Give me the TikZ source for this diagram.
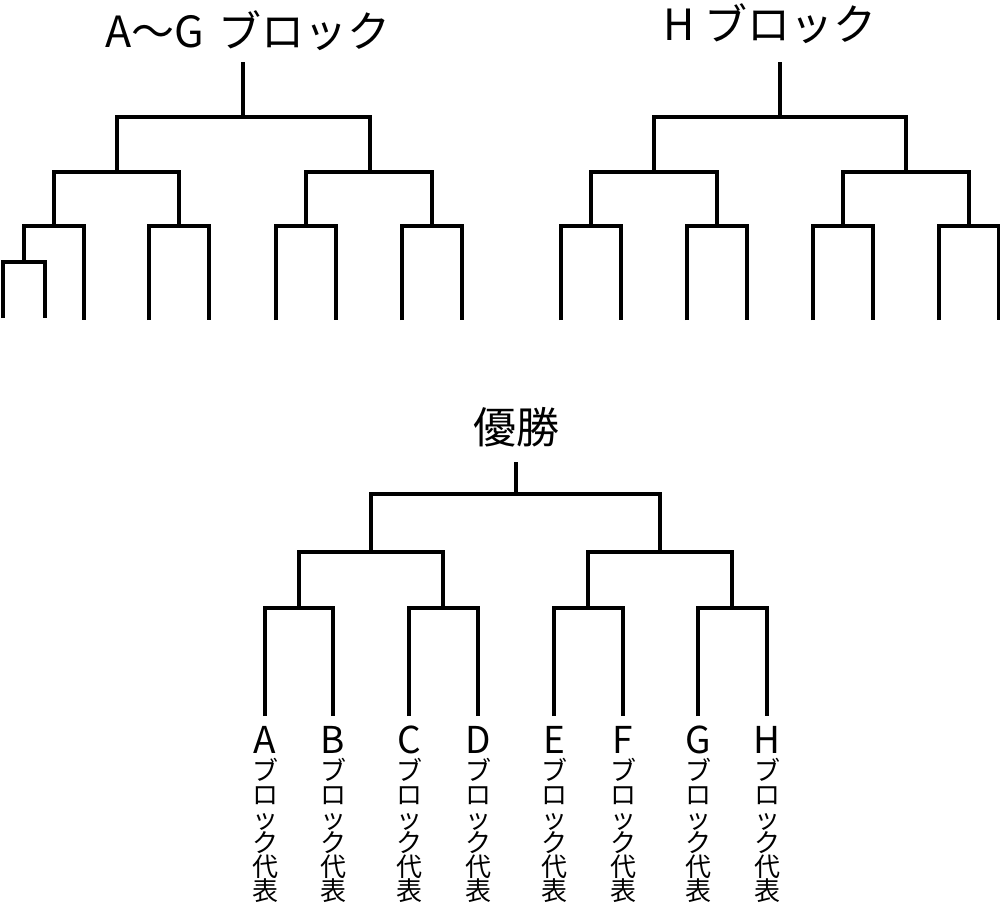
\documentclass[tikz,border=0pt]{standalone}
\usepackage{fontspec}
\setmainfont{Noto Sans CJK JP}
\usetikzlibrary{positioning}

\tikzset{
  bracket/.style={line width=4.5pt},
  blocktitle/.style={font=\fontsize{43}{43}\selectfont, inner sep=0pt, anchor=base},
  teamletter/.style={font=\fontsize{37}{37}\selectfont, inner sep=0pt, anchor=base},
  teamtext/.style={font=\fontsize{26}{24}\selectfont, inner sep=0pt, align=center},
}

\begin{document}
\begin{tikzpicture}[x=1pt,y=-1pt]
\useasboundingbox (0,0) rectangle (1000,903);

% A~G block
\node[blocktitle] (tAG) at (248,47) {A～G\hspace{0.1em} ブロック};
\coordinate (ag0) at (243,62);
\coordinate (ag) at (243,117);
\coordinate (ag1) at (117,172);
\coordinate (ag2) at (370,172);
\coordinate (ag11) at (54,226);
\coordinate (ag12) at (179,226);
\coordinate (ag21) at (306,226);
\coordinate (ag22) at (432,226);
\coordinate (ag111) at (24,262);
\foreach \n/\x/\y in {a/3/318,b/45/318,c/84/320,d/149/320,e/209/320,f/276/320,g/336/320,h/402/320,i/462/320}
  \coordinate (ag\n) at (\x,\y);
\draw[bracket] (ag0) -- (ag);
\draw[bracket] (ag1) |- (ag) -| (ag2);
\draw[bracket] (ag11) |- (ag1) -| (ag12);
\draw[bracket] (ag21) |- (ag2) -| (ag22);
\draw[bracket] (ag111) |- (ag11) -| (agc);
\draw[bracket] (aga) |- (ag111) -| (agb);
\draw[bracket] (agd) |- (ag12) -| (age);
\draw[bracket] (agf) |- (ag21) -| (agg);
\draw[bracket] (agh) |- (ag22) -| (agi);

% H block
\node[blocktitle] (tH) at (770,40) {H ブロック};
\coordinate (hb0) at (780,62);
\coordinate (hb) at (780,117);
\coordinate (hb1) at (654,172);
\coordinate (hb2) at (906,172);
\foreach \n/\x in {11/591,12/717,21/843,22/969}
  \coordinate (hb\n) at (\x,226);
\foreach \n/\x in {a/561,b/621,c/687,d/747,e/813,f/873,g/939,h/999}
  \coordinate (hb\n) at (\x,320);
\draw[bracket] (hb0) -- (hb);
\draw[bracket] (hb1) |- (hb) -| (hb2);
\draw[bracket] (hb11) |- (hb1) -| (hb12);
\draw[bracket] (hb21) |- (hb2) -| (hb22);
\draw[bracket] (hba) |- (hb11) -| (hbb);
\draw[bracket] (hbc) |- (hb12) -| (hbd);
\draw[bracket] (hbe) |- (hb21) -| (hbf);
\draw[bracket] (hbg) |- (hb22) -| (hbh);

% final
\node[blocktitle] (tWin) at (516,443) {優勝};
\coordinate (fn0) at (516,462);
\coordinate (fn) at (516,494);
\coordinate (fn1) at (371,552);
\coordinate (fn2) at (660,552);
\foreach \n/\x in {ab/299,cd/443,ef/588,gh/732}
  \coordinate (fn\n) at (\x,608);
\foreach \n/\x in {A/265,B/333,C/409,D/478,E/554,F/623,G/698,H/767} {
  \coordinate (w\n) at (\x,716);
  \node[teamletter] (l\n) at (\x,753) {\n};
  \node[teamtext, below=5pt of l\n.base] (t\n) {ブ\\ロ\\ッ\\ク\\代\\表};
}
\draw[bracket] (fn0) -- (fn);
\draw[bracket] (fn1) |- (fn) -| (fn2);
\draw[bracket] (fnab) |- (fn1) -| (fncd);
\draw[bracket] (fnef) |- (fn2) -| (fngh);
\draw[bracket] (wA) |- (fnab) -| (wB);
\draw[bracket] (wC) |- (fncd) -| (wD);
\draw[bracket] (wE) |- (fnef) -| (wF);
\draw[bracket] (wG) |- (fngh) -| (wH);
\end{tikzpicture}
\end{document}
